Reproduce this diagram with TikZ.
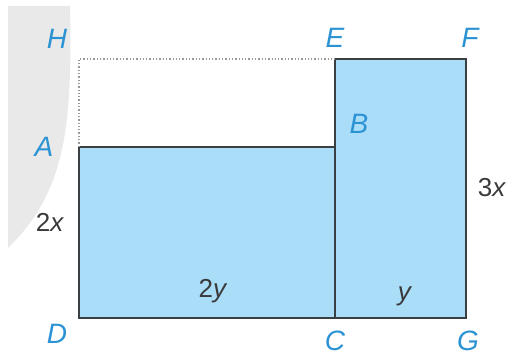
\documentclass[tikz,border=0pt]{standalone}
\usepackage{fontspec}
\setmainfont{Liberation Sans}
\begin{document}
\begin{tikzpicture}[x=1pt,y=-1pt,
  lbl/.style={text=labblue,font=\fontsize{28}{28}\selectfont\itshape,inner sep=0pt},
  dim/.style={text=dimgray,font=\fontsize{26}{26}\selectfont,inner sep=0pt},
  rectfill/.style={fill=rectblue,draw=edgegray,line width=2.2pt},
  dotline/.style={draw=gray!80,line width=1.3pt,dotted}]
\definecolor{labblue}{HTML}{2B93D3}
\definecolor{rectblue}{HTML}{A9DDF8}
\definecolor{edgegray}{HTML}{3A3F44}
\definecolor{dimgray}{HTML}{3A3A3A}
\definecolor{bgshadegray}{HTML}{E9E9E9}
\useasboundingbox (0,0) rectangle (510,358);
% background shade
\fill[bgshadegray] (8,6) -- (70,6) .. controls (72,120) and (68,190) .. (8,248) -- cycle;
% points
\coordinate (H) at (79,59);
\coordinate (E) at (335,59);
\coordinate (F) at (466,59);
\coordinate (A) at (79,147);
\coordinate (B) at (335,147);
\coordinate (D) at (79,318);
\coordinate (C) at (335,318);
\coordinate (G) at (466,318);
% rectangles
\path[rectfill] (A) -- (B) -- (C) -- (D) -- cycle;
\path[rectfill] (E) -- (F) -- (G) -- (C) -- cycle;
\draw[dotline] (A) -- (H) -- (E);
% labels
\node[lbl] (lH) at (57,39) {H};
\node[lbl] (lE) at (335,38) {E};
\node[lbl] (lF) at (470,38) {F};
\node[lbl] (lA) at (44,147) {A};
\node[lbl] (lB) at (359,124) {B};
\node[lbl] (lD) at (57,334) {D};
\node[lbl] (lC) at (335,341) {C};
\node[lbl] (lG) at (468,341) {G};
\node[dim] (l2x) at (50,222) {2\textit{x}};
\node[dim] (l3x) at (492,188) {3\textit{x}};
\node[dim] (l2y) at (213,291) {2\textit{y}};
\node[dim] (ly) at (405,296) {\textit{y}};
\end{tikzpicture}
\end{document}
